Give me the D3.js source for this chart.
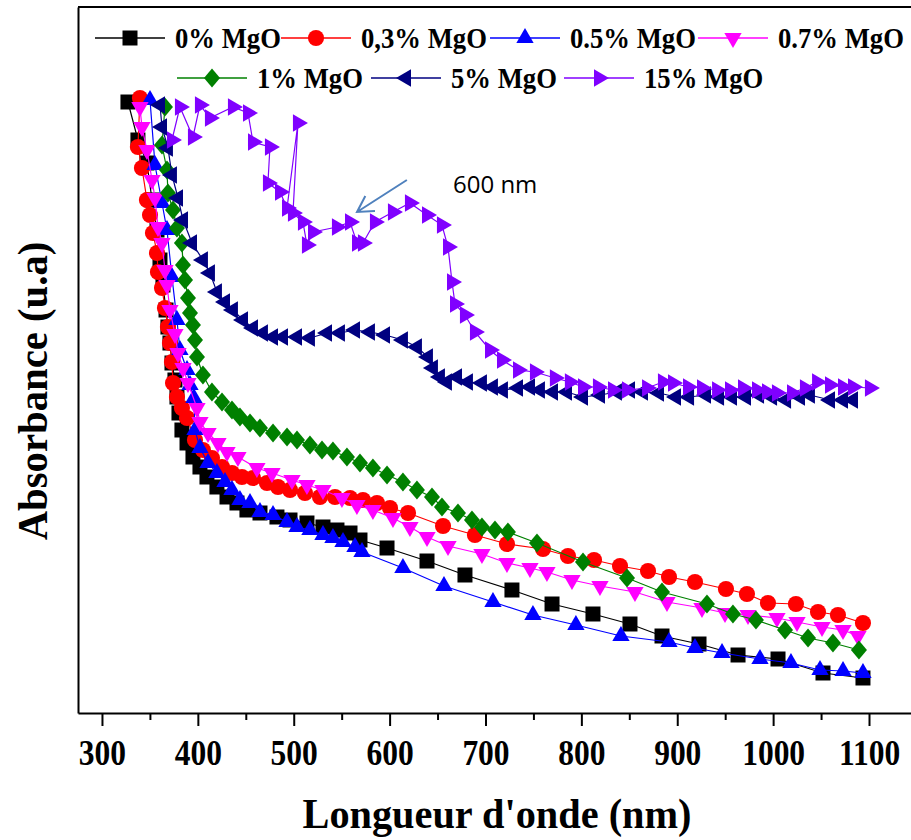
<!DOCTYPE html>
<html><head><meta charset="utf-8">
<script src="https://cdn.jsdelivr.net/npm/d3@7"></script>
<style>body{margin:0;background:#fff}</style>
</head><body>
<svg id="chart" width="911" height="840"></svg>
<script>
// ---- DATA (wavelength nm, absorbance a.u.) ----
const names = ["0% MgO","0,3% MgO","0.5% MgO","0.7% MgO","1% MgO","5% MgO","15% MgO"];
const colors = ["#000000","#ff0000","#0000ff","#ff00ff","#008000","#000080","#8000ff"];
const shapes = ["square","circle","up","down","diamond","left","right"];
const xTicks = [300,400,500,600,700,800,900,1000,1100];
const xMinor = [350,450,550,650,750,850,950,1050];

const mg0 = [[327.1,6.11],[337.5,5.73],[346.9,5.50],[352.2,5.13],[357.4,4.83],[360.5,4.53],[363.6,4.28],[366.8,4.03],[368.8,3.86],[370.9,3.70],[373.0,3.50],[376.1,3.33],[378.2,3.16],[380.3,3.00],[383.4,2.83],[388.7,2.70],[394.9,2.56],[402.2,2.46],[409.5,2.36],[419.9,2.26],[430.4,2.16],[440.8,2.10],[451.2,2.03],[464.8,2.00],[482.5,1.96],[496.1,1.93],[513.8,1.90],[530.5,1.86],[545.1,1.83],[558.7,1.80],[569.1,1.73],[597.3,1.65],[639.0,1.52],[678.6,1.38],[727.6,1.23],[769.4,1.09],[812.1,0.99],[850.7,0.89],[884.1,0.77],[922.7,0.69],[963.4,0.58],[1005.1,0.54],[1052.0,0.40],[1093.7,0.35]];
const mg03 = [[339.6,6.15],[337.5,5.66],[341.7,5.45],[346.9,5.13],[350.1,4.98],[353.2,4.80],[357.4,4.60],[358.4,4.41],[362.6,4.25],[365.7,4.05],[368.8,3.86],[370.9,3.70],[373.0,3.51],[374.1,3.30],[378.2,3.16],[383.4,3.05],[388.7,2.95],[397.0,2.73],[405.3,2.63],[414.7,2.55],[425.2,2.46],[435.6,2.40],[446.0,2.36],[457.5,2.35],[472.1,2.30],[483.6,2.26],[496.1,2.23],[511.7,2.20],[527.4,2.16],[543.0,2.16],[558.7,2.15],[572.2,2.13],[586.8,2.10],[600.4,2.05],[619.2,2.00],[655.7,1.87],[689.0,1.78],[722.4,1.69],[760.0,1.64],[786.0,1.57],[813.2,1.53],[840.3,1.47],[869.5,1.42],[891.4,1.36],[918.5,1.31],[950.8,1.24],[972.7,1.19],[994.6,1.10],[1023.8,1.09],[1046.8,1.01],[1067.6,0.98],[1093.7,0.90]];
const mg05 = [[350.1,6.13],[355.3,5.48],[362.6,5.10],[367.8,4.83],[373.0,4.36],[378.2,3.93],[381.3,3.63],[388.7,3.43],[391.8,3.28],[395.9,3.15],[397.0,2.83],[402.2,2.65],[410.6,2.50],[419.9,2.40],[428.3,2.31],[435.6,2.23],[443.9,2.13],[454.4,2.10],[464.8,2.01],[478.4,1.98],[493.0,1.91],[503.4,1.86],[516.9,1.83],[530.5,1.78],[540.9,1.75],[551.4,1.71],[563.9,1.66],[571.2,1.61],[613.9,1.45],[656.7,1.27],[707.8,1.11],[749.5,0.98],[794.3,0.88],[841.3,0.77],[891.4,0.71],[918.5,0.65],[946.7,0.60],[986.3,0.54],[1018.6,0.50],[1048.9,0.43],[1072.9,0.42],[1093.7,0.40]];
const mg07 = [[339.6,6.06],[341.7,5.86],[346.9,5.63],[352.2,5.33],[355.3,5.15],[358.4,4.86],[362.6,4.70],[365.7,4.43],[367.8,4.28],[370.9,4.03],[376.1,3.79],[379.3,3.60],[384.5,3.45],[389.7,3.30],[399.1,3.05],[402.2,2.91],[410.6,2.80],[421.0,2.70],[430.4,2.61],[441.8,2.56],[461.6,2.45],[477.3,2.40],[498.2,2.33],[513.8,2.28],[530.5,2.23],[550.3,2.15],[565.9,2.08],[582.6,2.03],[603.5,1.95],[621.2,1.86],[639.0,1.76],[660.9,1.67],[696.3,1.59],[722.4,1.50],[746.4,1.45],[764.1,1.41],[790.2,1.33],[819.4,1.27],[855.9,1.21],[889.3,1.11],[925.8,1.05],[949.8,1.00],[973.8,0.98],[1004.0,0.95],[1024.9,0.91],[1051.0,0.86],[1072.9,0.83],[1088.5,0.77]];
const mg1 = [[365.7,6.06],[362.6,5.68],[367.8,5.43],[368.8,5.20],[374.1,5.03],[378.2,4.85],[383.4,4.70],[384.5,4.48],[386.6,4.33],[389.7,4.15],[391.8,4.00],[394.9,3.88],[397.0,3.73],[399.1,3.56],[405.3,3.38],[414.7,3.21],[425.2,3.11],[435.6,3.03],[443.9,2.96],[454.4,2.90],[464.8,2.85],[478.4,2.80],[493.0,2.76],[503.4,2.73],[516.9,2.68],[529.5,2.63],[540.9,2.62],[555.5,2.56],[569.1,2.50],[582.6,2.45],[597.3,2.38],[613.9,2.31],[628.5,2.23],[644.2,2.16],[654.6,2.06],[671.3,2.00],[685.9,1.93],[696.3,1.86],[709.9,1.83],[723.4,1.81],[753.7,1.70],[801.7,1.51],[847.6,1.35],[884.1,1.21],[931.0,1.09],[958.1,0.99],[982.1,0.93],[1012.4,0.83],[1036.4,0.75],[1062.4,0.70],[1089.5,0.63]];
const mg5 = [[360.5,6.08],[362.6,5.86],[368.8,5.65],[373.0,5.38],[379.3,5.15],[384.5,4.93],[393.9,4.70],[405.3,4.53],[412.6,4.40],[419.9,4.21],[428.3,4.11],[436.6,4.03],[447.1,3.93],[457.5,3.85],[467.9,3.80],[478.4,3.76],[488.8,3.76],[503.4,3.76],[516.9,3.75],[534.7,3.80],[548.2,3.80],[563.9,3.83],[579.5,3.81],[595.2,3.78],[613.9,3.73],[628.5,3.66],[640.0,3.56],[645.2,3.45],[652.5,3.36],[659.8,3.31],[670.3,3.36],[681.7,3.31],[696.3,3.30],[707.8,3.26],[718.2,3.23],[733.9,3.25],[746.4,3.26],[756.8,3.23],[770.4,3.21],[785.0,3.21],[801.7,3.16],[819.4,3.18],[837.1,3.21],[850.7,3.23],[864.3,3.21],[881.0,3.20],[898.7,3.16],[912.3,3.16],[930.0,3.18],[943.6,3.16],[957.1,3.16],[971.7,3.16],[985.3,3.18],[998.9,3.16],[1013.5,3.13],[1028.0,3.16],[1038.4,3.18],[1059.3,3.13],[1072.9,3.13],[1083.3,3.13]];
const mg15 = [[373.0,5.73],[381.3,6.06],[394.9,5.76],[402.2,6.08],[412.6,5.95],[436.6,6.06],[452.3,6.00],[457.5,5.71],[475.2,5.66],[473.1,5.30],[485.7,5.21],[493.0,5.05],[504.4,5.90],[499.2,5.00],[509.6,4.91],[513.8,4.68],[520.1,4.81],[545.1,4.86],[558.7,4.91],[566.0,4.70],[572.2,4.70],[584.7,4.91],[603.5,5.01],[621.2,5.10],[639.0,4.98],[654.6,4.88],[660.9,4.66],[665.1,4.31],[668.2,4.09],[678.6,3.98],[689.0,3.81],[704.7,3.63],[717.2,3.53],[733.9,3.43],[751.6,3.41],[772.4,3.35],[788.0,3.31],[801.7,3.26],[817.3,3.26],[833.0,3.23],[847.6,3.23],[868.5,3.25],[885.1,3.31],[895.6,3.30],[911.2,3.26],[925.8,3.25],[941.5,3.23],[955.0,3.23],[968.6,3.25],[983.2,3.23],[993.6,3.21],[1004.0,3.20],[1019.7,3.20],[1033.2,3.25],[1045.8,3.31],[1059.3,3.28],[1072.9,3.26],[1083.3,3.26],[1101.0,3.25]];
const allSeries = [mg0, mg03, mg05, mg07, mg1, mg5, mg15];
const annotation = {text: "600 nm", from: [618, 5.33], to: [566, 5.01]};

// ---- LAYOUT ----
const svg = d3.select("#chart");
const L = 78, R = 911, T = 7, B = 713;
const x = d3.scaleLinear().domain([275, 1143.8]).range([L, R]);
const y = d3.scaleLinear().domain([0, 7.06]).range([B, T]);
const serif = "'Liberation Serif','Times New Roman',serif";

function symPath(shape) {
  if (shape === "square") return d3.symbol(d3.symbolSquare, 225)();
  if (shape === "circle") return d3.symbol(d3.symbolCircle, 205)();
  if (shape === "diamond") return "M0,-9.5L8,0L0,9.5L-8,0Z";
  return d3.symbol(d3.symbolTriangle, 130)();
}
const rot = {up: 0, down: 180, left: -90, right: 90};
function symTransform(shape, px, py) {
  const r = rot[shape];
  return `translate(${px},${py})` + (r !== undefined ? ` rotate(${r})` : "");
}

// frame
svg.append("line").attr("x1", L).attr("x2", R).attr("y1", T).attr("y2", T)
  .attr("stroke", "#000").attr("stroke-width", 2);

// x axis
const gx = svg.append("g").attr("transform", `translate(0,${B})`);
gx.call(d3.axisBottom(x).tickValues(xTicks).tickSize(13).tickSizeOuter(0).tickPadding(14).tickFormat(d3.format("d")));
gx.select(".domain").attr("stroke-width", 2);
gx.selectAll(".tick line").attr("stroke-width", 2);
gx.selectAll(".tick text").attr("font-family", serif).attr("font-weight", "bold")
  .attr("font-size", 35).attr("fill", "#000").attr("transform", "scale(0.9,1)");
const gxm = svg.append("g").attr("transform", `translate(0,${B})`);
gxm.call(d3.axisBottom(x).tickValues(xMinor).tickSize(7).tickSizeOuter(0).tickFormat(""));
gxm.select(".domain").remove();
gxm.selectAll(".tick line").attr("stroke-width", 2);

// y axis
const gy = svg.append("g").attr("transform", `translate(${L},0)`);
gy.call(d3.axisLeft(y).tickValues([]).tickSizeOuter(0));
gy.select(".domain").attr("stroke-width", 2);

// titles
svg.append("text").attr("transform", `translate(${(302+692)/2},828) scale(0.96,1)`)
  .attr("text-anchor", "middle").attr("font-family", serif).attr("font-weight", "bold")
  .attr("font-size", 42).text("Longueur d'onde (nm)");
svg.append("text").attr("transform", `translate(47,391) rotate(-90) scale(0.97,1)`)
  .attr("text-anchor", "middle").attr("font-family", serif).attr("font-weight", "bold")
  .attr("font-size", 42).text("Absorbance (u.a)");

// series
const line = d3.line().x(d => x(d[0])).y(d => y(d[1]));
allSeries.forEach((data, i) => {
  const g = svg.append("g");
  g.append("path").attr("d", line(data)).attr("fill", "none")
    .attr("stroke", colors[i]).attr("stroke-width", 1.2);
  g.selectAll("path.m").data(data).enter().append("path").attr("class", "m")
    .attr("d", symPath(shapes[i]))
    .attr("transform", d => symTransform(shapes[i], x(d[0]), y(d[1])))
    .attr("fill", colors[i]);
});

// annotation
const ax1 = x(annotation.from[0]) , ay1 = y(annotation.from[1]);
const ax2 = x(annotation.to[0]), ay2 = y(annotation.to[1]);
const ang = Math.atan2(ay1 - ay2, ax1 - ax2);
const hl = 18, ha = 0.52;
svg.append("path")
  .attr("d", `M${ax1},${ay1}L${ax2},${ay2}M${ax2 + hl*Math.cos(ang-ha)},${ay2 + hl*Math.sin(ang-ha)}L${ax2},${ay2}L${ax2 + hl*Math.cos(ang+ha)},${ay2 + hl*Math.sin(ang+ha)}`)
  .attr("fill", "none").attr("stroke", "#4f81bd").attr("stroke-width", 2);
svg.append("text").attr("x", 453).attr("y", 193).attr("font-family", "'Open Sans',sans-serif")
  .attr("font-size", 24).attr("fill", "#000").text(annotation.text);

// legend
const legStarts = [[95,38],[281,38],[490,38],[698,38],[177,78],[371,78],[564,78]];
names.forEach((n, i) => {
  const [lx, ly] = legStarts[i];
  const g = svg.append("g");
  g.append("line").attr("x1", lx).attr("x2", lx + 70).attr("y1", ly).attr("y2", ly)
    .attr("stroke", colors[i]).attr("stroke-width", 1.5);
  g.append("path").attr("d", symPath(shapes[i]))
    .attr("transform", symTransform(shapes[i], lx + 35, ly)).attr("fill", colors[i]);
  g.append("text").attr("transform", `translate(${lx + 80},${ly + 9.5}) scale(0.92,1)`)
    .attr("font-family", serif).attr("font-weight", "bold").attr("font-size", 29).text(n);
});
</script>
</body></html>
